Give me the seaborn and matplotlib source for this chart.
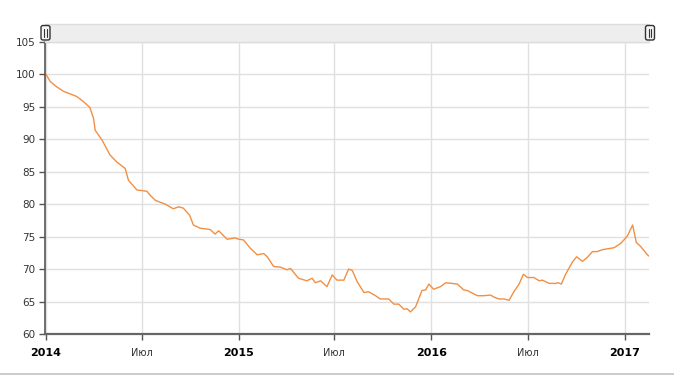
import matplotlib
matplotlib.use("Agg")
import matplotlib.pyplot as plt
import matplotlib.dates as mdates
from matplotlib.patches import Rectangle, FancyBboxPatch
import numpy as np
import pandas as pd
import seaborn as sns

# ---- data (days since 2014-01-01, index values) ----
day_offsets = [0, 8, 20, 33, 49, 58, 71, 83, 90, 93, 106, 121, 134, 150, 156, 172,
               191, 197, 207, 226, 241, 251, 260, 272, 279, 292, 311, 320, 327, 343,
               358, 365, 374, 387, 400, 412, 419, 431, 444, 456, 463, 478, 494, 504,
               510, 520, 532, 542, 551, 564, 573, 580, 589, 602, 611, 624, 633, 649,
               659, 668, 678, 684, 690, 700, 712, 719, 725, 734, 747, 757, 779, 791,
               798, 817, 829, 842, 848, 858, 867, 877, 886, 896, 904, 912, 924, 934,
               940, 953, 965, 970, 976, 984, 997, 1005, 1016, 1025, 1035, 1044, 1054,
               1076, 1089, 1101, 1111, 1118, 1126, 1139, 1142]
values = [100.0, 98.9, 98.1, 97.4, 96.9, 96.6, 95.8, 94.9, 93.2, 91.4, 89.9, 87.6,
          86.5, 85.5, 83.7, 82.2, 82.0, 81.4, 80.6, 80.0, 79.3, 79.6, 79.4, 78.3,
          76.8, 76.3, 76.1, 75.4, 75.9, 74.6, 74.8, 74.6, 74.5, 73.2, 72.2, 72.4,
          71.9, 70.4, 70.3, 69.9, 70.1, 68.6, 68.2, 68.6, 67.9, 68.2, 67.3, 69.1,
          68.3, 68.3, 70.0, 69.8, 68.1, 66.4, 66.5, 65.9, 65.4, 65.4, 64.6, 64.6,
          63.8, 63.9, 63.4, 64.2, 66.7, 66.8, 67.7, 66.9, 67.3, 67.9, 67.7, 66.8,
          66.7, 65.9, 65.9, 66.0, 65.7, 65.4, 65.4, 65.2, 66.5, 67.7, 69.2, 68.7,
          68.7, 68.2, 68.3, 67.8, 67.8, 67.9, 67.7, 69.2, 71.1, 71.9, 71.2, 71.8,
          72.7, 72.7, 73.0, 73.3, 74.0, 75.1, 76.8, 74.1, 73.5, 72.2, 72.0]
y_ticks = [60, 65, 70, 75, 80, 85, 90, 95, 100, 105]
x_tick_dates = ["2014-01-01", "2014-07-01", "2015-01-01", "2015-07-01",
                "2016-01-01", "2016-07-01", "2017-01-01"]
x_tick_labels = ["2014", "Июл", "2015", "Июл", "2016", "Июл", "2017"]

start = pd.Timestamp("2014-01-01")
df = pd.DataFrame({
    "date": start + pd.to_timedelta(day_offsets, unit="D"),
    "value": values,
})

sns.set_style("white")
plt.rcParams["font.family"] = ["DejaVu Sans"]

W, H = 674, 376
fig = plt.figure(figsize=(W / 100, H / 100), dpi=100)
ax_l, ax_r, ax_t, ax_b = 45, 649, 42, 334
ax = fig.add_axes([ax_l / W, 1 - ax_b / H, (ax_r - ax_l) / W, (ax_b - ax_t) / H])

sns.lineplot(data=df, x="date", y="value", ax=ax, color="#f28f43", linewidth=1.0)

ax.set_ylim(60, 105)
ax.set_xlim(pd.Timestamp("2013-12-30"), pd.Timestamp("2017-02-16"))
ax.set_yticks(y_ticks)
ax.set_yticklabels([str(v) for v in y_ticks], fontsize=7.5, color="#333333")
xt = pd.to_datetime(x_tick_dates)
ax.set_xticks(xt)
ax.set_xticklabels(x_tick_labels)
for lbl, txt in zip(ax.get_xticklabels(), x_tick_labels):
    if txt.isdigit():
        lbl.set_fontweight("bold")
        lbl.set_fontsize(8)
        lbl.set_color("#000000")
    else:
        lbl.set_fontsize(7)
        lbl.set_color("#333333")

ax.set_xlabel("")
ax.set_ylabel("")
ax.grid(True, color="#e0e0e0", linewidth=1)
ax.set_axisbelow(True)
for s in ["top", "right"]:
    ax.spines[s].set_visible(False)
ax.spines["left"].set_color("#555555")
ax.spines["left"].set_linewidth(1.2)
ax.spines["bottom"].set_color("#666666")
ax.spines["bottom"].set_linewidth(1.6)
ax.tick_params(axis="y", which="major", length=4, width=1, color="#555555", pad=3, direction="out", left=True)
ax.tick_params(axis="x", which="major", length=4, width=1, color="#555555", pad=6, direction="out", bottom=True)

# scrollbar navigator above the plot
sb = fig.add_axes([0, 0, 1, 1], zorder=5)
sb.set_xlim(0, W)
sb.set_ylim(H, 0)
sb.axis("off")
sb.patch.set_alpha(0)
sb.add_patch(Rectangle((ax_l, 24), ax_r - ax_l, 18, facecolor="#eeeeee",
                       edgecolor="#dddddd", linewidth=1))
for hx in [45.5, 650]:
    sb.add_patch(FancyBboxPatch((hx - 4.5, 25.5), 9, 14.5,
                                boxstyle="round,pad=0,rounding_size=2",
                                facecolor="#f4f4f4", edgecolor="#333333", linewidth=1))
    sb.plot([hx - 1.3, hx - 1.3], [29, 37], color="#333333", linewidth=0.8)
    sb.plot([hx + 1.3, hx + 1.3], [29, 37], color="#333333", linewidth=0.8)
# bottom gray border line
sb.add_patch(Rectangle((0, 373), W, 2, facecolor="#cccccc", edgecolor="none"))

fig.savefig("out.png", dpi=100)
